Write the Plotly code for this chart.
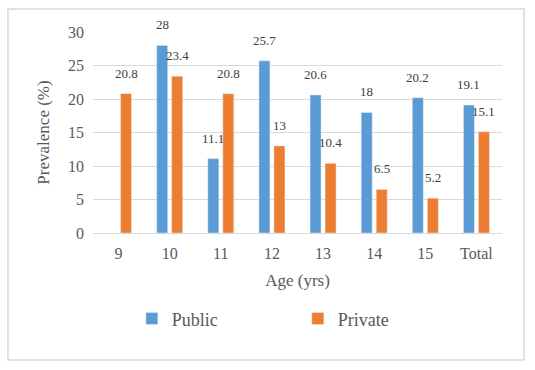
import plotly.graph_objects as go

categories = ["9", "10", "11", "12", "13", "14", "15", "Total"]
public_vals = [None, 28, 11.1, 25.7, 20.6, 18, 20.2, 19.1]
private_vals = [20.8, 23.4, 20.8, 13, 10.4, 6.5, 5.2, 15.1]
y_ticks = [0, 5, 10, 15, 20, 25, 30]

BLUE = "#5B9BD5"
ORANGE = "#ED7D31"
FONT = "Liberation Serif, Times New Roman, serif"
TXT = "#595959"

fig = go.Figure()
fig.add_trace(go.Bar(name="Public", x=categories, y=public_vals, marker_color=BLUE))
fig.add_trace(go.Bar(name="Private", x=categories, y=private_vals, marker_color=ORANGE))

# data labels (x given as category index on the category axis)
for series, shift in ((public_vals, -7.5), (private_vals, 7.5)):
    for i, v in enumerate(series):
        if v is None:
            continue
        fig.add_annotation(x=i, y=v, text=f"{v:g}", showarrow=False,
                           xshift=shift, yshift=11, yanchor="bottom",
                           font=dict(family=FONT, size=13, color="#404040"))

fig.add_shape(type="rect", xref="paper", yref="paper",
              x0=-0.208, x1=1.054, y0=-0.632, y1=1.114,
              line=dict(color="#d9d9d9", width=1.5), layer="below")

fig.update_layout(
    width=535, height=370,
    margin=dict(l=93, r=33, t=32, b=137, autoexpand=False),
    paper_bgcolor="white", plot_bgcolor="white",
    barmode="group", bargap=0.413, bargroupgap=0.267,
    font=dict(family=FONT, color=TXT),
    showlegend=True,
    legend=dict(orientation="h", x=0.095, xanchor="left", y=-0.335, yanchor="top",
                entrywidth=121, entrywidthmode="pixels", itemwidth=30,
                bgcolor="rgba(0,0,0,0)",
                font=dict(family=FONT, size=18, color=TXT)),
    xaxis=dict(type="category", categoryorder="array", categoryarray=categories,
               title=dict(text="Age (yrs)", font=dict(family=FONT, size=17, color=TXT), standoff=12),
               tickfont=dict(family=FONT, size=16, color=TXT), ticklabelstandoff=6,
               showline=True, linecolor="#d9d9d9",
               linewidth=1, ticks="", showgrid=False),
    yaxis=dict(title=dict(text="Prevalence (%)", font=dict(family=FONT, size=17, color=TXT), standoff=14),
               range=[0, 30], tickvals=y_ticks, tickfont=dict(family=FONT, size=16, color=TXT),
               ticklabelstandoff=8,
               showgrid=True, gridcolor="#d9d9d9", gridwidth=1, zeroline=False,
               ticks="", showline=False),
)

fig.write_html("out.html", config={"displayModeBar": False},
               post_script="document.body.style.margin='0';")
